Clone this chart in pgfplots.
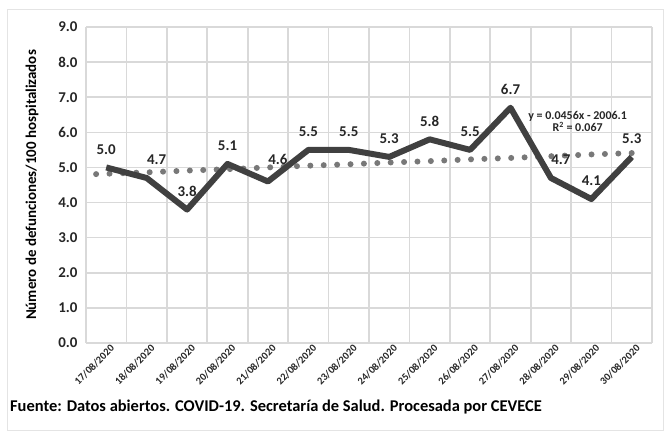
\documentclass[border=0pt]{standalone}
\usepackage{fontspec}
\setmainfont{Carlito}
\usepackage{pgfplots}
\pgfplotsset{compat=1.18}
\definecolor{linegray}{RGB}{64,64,64}
\definecolor{trendgray}{RGB}{120,120,120}
\definecolor{gridgray}{RGB}{217,217,217}
\definecolor{txtgray}{RGB}{38,38,38}

\begin{document}
\begin{tikzpicture}[x=1bp,y=1bp]
\useasboundingbox (0,0) rectangle (664,434);
\draw[gridgray!70, line width=1bp] (7,3) rectangle (663,424);
\begin{axis}[at={(86bp,91bp)}, anchor=south west,
  scale only axis, width=566bp, height=316bp,
  xmin=-0.5, xmax=13.5, ymin=0, ymax=9,
  xtick={0,...,13},
  xticklabels={17/08/2020,18/08/2020,19/08/2020,20/08/2020,21/08/2020,22/08/2020,23/08/2020,24/08/2020,25/08/2020,26/08/2020,27/08/2020,28/08/2020,29/08/2020,30/08/2020},
  minor xtick={-0.5,0.5,...,13.5},
  ytick={0,1,...,9},
  yticklabel={\pgfmathprintnumber[fixed,fixed zerofill,precision=1]{\tick}},
  /pgf/number format/assume math mode=true,
  x tick label style={rotate=45, anchor=north east, font=\fontsize{10.5}{11}\selectfont\bfseries, text=txtgray, inner sep=1bp, xshift=3bp, yshift=-2bp},
  y tick label style={font=\fontsize{15}{16}\selectfont\bfseries, text=txtgray, xshift=-5bp},
  major tick length=0pt, minor tick length=0pt,
  xmajorgrids=false, ymajorgrids=true, xminorgrids=true,
  grid style={gridgray, line width=1.6bp},
  minor grid style={gridgray, line width=1.6bp},
  axis lines*=left,
  x axis line style={gridgray, line width=1.6bp, -},
  y axis line style={draw=none},
  ylabel={Número de defunciones/100 hospitalizados},
  ylabel style={font=\fontsize{15}{16}\selectfont\bfseries, text=black, at={(axis description cs:0,0.5)}, anchor=south, yshift=44bp},
  clip=false]
\addplot[trendgray, line width=6bp, line cap=round, dash pattern=on 0pt off 13.4bp]
  coordinates {(-0.25,4.81) (0,4.82) (1,4.86) (2,4.91) (3,4.95) (4,5.00) (5,5.05) (6,5.09) (7,5.14) (8,5.18) (9,5.23) (10,5.27) (11,5.32) (12,5.37) (13,5.41)};
\addplot[linegray, line width=6bp, line join=round,
  nodes near coords, point meta=explicit symbolic,
  every node near coord/.append style={font=\fontsize{15}{16}\selectfont\bfseries, text=txtgray, inner sep=2bp, yshift=8bp},
  coordinate style/.condition={\coordindex==1 || \coordindex==11}{xshift=10bp},
  coordinate style/.condition={\coordindex==4}{xshift=10bp, yshift=4bp}]
  coordinates {(0,5.0)[5.0] (1,4.7)[4.7] (2,3.8)[3.8] (3,5.1)[5.1] (4,4.6)[4.6] (5,5.5)[5.5] (6,5.5)[5.5] (7,5.3)[5.3] (8,5.8)[5.8] (9,5.5)[5.5] (10,6.7)[6.7] (11,4.7)[4.7] (12,4.1)[4.1] (13,5.3)[5.3]};
\node[font=\fontsize{12}{13}\selectfont\bfseries, text=txtgray, align=center, inner sep=0pt] at (axis cs:11.66,6.3) {y = 0.0456x - 2006.1\\[-1bp]R\textsuperscript{2} = 0.067};
\end{axis}
\node[anchor=west, font=\fontsize{16.5}{17}\selectfont\bfseries, inner sep=0pt] at (10,27) {Fuente: Datos abiertos. COVID-19. Secretaría de Salud. Procesada por CEVECE};
\end{tikzpicture}
\end{document}
